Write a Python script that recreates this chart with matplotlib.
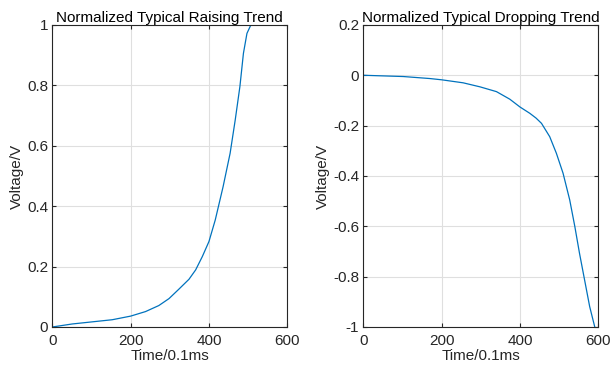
import numpy as np
import matplotlib.pyplot as plt

plt.rcParams['font.family'] = ['Liberation Sans', 'DejaVu Sans']

# Raising trend
rise_t = [0, 51, 102, 153, 200, 238, 272, 298, 323, 349, 366, 383, 400, 416,
          436, 454, 467, 479, 488, 497, 507]
rise_v = [0, 0.010, 0.017, 0.024, 0.036, 0.051, 0.071, 0.094, 0.125, 0.158, 0.189,
          0.233, 0.283, 0.354, 0.464, 0.575, 0.685, 0.796, 0.906, 0.972, 1.0]

# Dropping trend
drop_t = [0, 102, 170, 200, 255, 298, 340, 357, 374, 400, 425, 441, 455, 476,
          493, 510, 527, 540, 552, 565, 578, 591]
drop_v = [0, -0.005, -0.013, -0.018, -0.030, -0.046, -0.065, -0.080, -0.095, -0.126,
          -0.151, -0.170, -0.191, -0.244, -0.31, -0.389, -0.495, -0.60, -0.707,
          -0.813, -0.919, -1.0]

line_color = '#0072BD'
text_color = '#262626'

fig = plt.figure(figsize=(6.11, 3.72), dpi=100)
ax1 = fig.add_axes([0.0856, 0.121, 0.3846, 0.812])
ax2 = fig.add_axes([0.5946, 0.121, 0.3846, 0.812])

def style(ax):
    ax.grid(True, color='#dfdfdf', linewidth=0.8)
    ax.set_axisbelow(True)
    ax.tick_params(direction='in', top=True, right=True, labelsize=11,
                   colors=text_color, length=3, pad=3)
    ax.tick_params(axis='x', pad=5)
    for s in ax.spines.values():
        s.set_color(text_color)
        s.set_linewidth(0.8)

ax1.plot(rise_t, rise_v, color=line_color, linewidth=0.9)
ax1.set_xlim(0, 600)
ax1.set_ylim(0, 1)
ax1.set_xticks([0, 200, 400, 600])
ax1.set_yticks([0, 0.2, 0.4, 0.6, 0.8, 1])
ax1.set_yticklabels(['0', '0.2', '0.4', '0.6', '0.8', '1'])
ax1.set_xlabel('Time/0.1ms', fontsize=11, color=text_color, labelpad=1)
ax1.set_ylabel('Voltage/V', fontsize=11, color=text_color, labelpad=2)
ax1.set_title('Normalized Typical Raising Trend', fontsize=11, pad=2)
style(ax1)

ax2.plot(drop_t, drop_v, color=line_color, linewidth=0.9)
ax2.set_xlim(0, 600)
ax2.set_ylim(-1, 0.2)
ax2.set_xticks([0, 200, 400, 600])
ax2.set_yticks([-1, -0.8, -0.6, -0.4, -0.2, 0, 0.2])
ax2.set_yticklabels(['-1', '-0.8', '-0.6', '-0.4', '-0.2', '0', '0.2'])
ax2.set_xlabel('Time/0.1ms', fontsize=11, color=text_color, labelpad=1)
ax2.set_ylabel('Voltage/V', fontsize=11, color=text_color, labelpad=2)
ax2.set_title('Normalized Typical Dropping Trend', fontsize=11, pad=2)
style(ax2)

fig.savefig('out.png', dpi=100)
